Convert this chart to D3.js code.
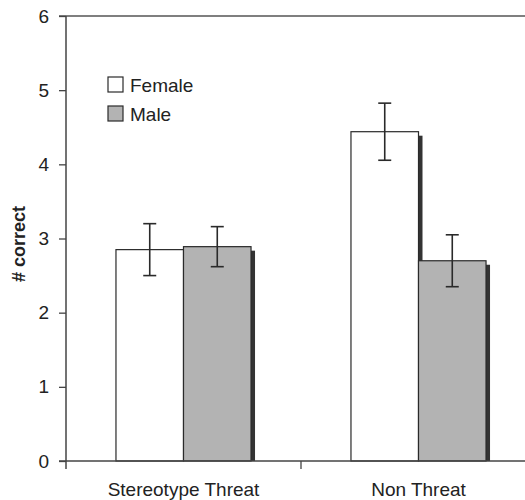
<!DOCTYPE html>
<html>
<head>
<meta charset="utf-8">
<script src="https://cdn.jsdelivr.net/npm/d3@7"></script>
<style>
  body { margin: 0; background: #fff; }
  svg { display: block; font-family: "Liberation Sans", Arial, sans-serif; }
</style>
</head>
<body>
<div id="chart"></div>
<script>
// Mean number correct by condition and sex, with error bars.
const conditions = ["Stereotype Threat", "Non Threat"];
const sexes = ["Female", "Male"];
const femaleMeans = [2.85, 4.44];
const maleMeans = [2.89, 2.70];
const femaleErr = [0.35, 0.385];
const maleErr = [0.27, 0.35];
const yTicks = [0, 1, 2, 3, 4, 5, 6];

const WIDTH = 525, HEIGHT = 500;
const MARGIN = { left: 66, top: 16 };
const INNER_W = 470, INNER_H = 445;

const rows = [];
conditions.forEach((c, i) => {
    rows.push({ cond: c, sex: "Female", mean: femaleMeans[i], err: femaleErr[i] });
    rows.push({ cond: c, sex: "Male", mean: maleMeans[i], err: maleErr[i] });
});

const svg = d3.select("#chart").append("svg")
    .attr("width", WIDTH)
    .attr("height", HEIGHT);

const chart = svg.append("g")
    .attr("transform", `translate(${MARGIN.left}, ${MARGIN.top})`);

const x0 = d3.scaleBand().domain(conditions).range([0, INNER_W]);
const x1 = d3.scaleBand().domain(sexes).range([0, x0.bandwidth()]).paddingOuter(0.74);
const y = d3.scaleLinear().domain([0, 6]).range([INNER_H, 0]);
const fill = d3.scaleOrdinal().domain(sexes).range(["#ffffff", "#b3b3b3"]);

const ink = "#2a2a2a";

// Top border line of the plot frame.
chart.append("line")
    .attr("x1", -7).attr("x2", INNER_W)
    .attr("y1", y(6)).attr("y2", y(6))
    .attr("stroke", "#555").attr("stroke-width", 1.5);

// Bars with a dark offset shadow on the right.
const bars = chart.selectAll("g.bar")
    .data(rows)
    .join("g")
    .attr("class", "bar")
    .attr("transform", d => `translate(${x0(d.cond) + x1(d.sex)}, 0)`);

bars.append("rect")
    .attr("x", 4)
    .attr("y", d => y(d.mean) + 4)
    .attr("width", x1.bandwidth())
    .attr("height", d => INNER_H - y(d.mean) - 4)
    .attr("fill", "#333");

bars.append("rect")
    .attr("x", 0)
    .attr("y", d => y(d.mean))
    .attr("width", x1.bandwidth())
    .attr("height", d => INNER_H - y(d.mean))
    .attr("fill", d => fill(d.sex))
    .attr("stroke", ink)
    .attr("stroke-width", 1.2);

// Error bars
const eb = bars.append("g").attr("stroke", ink).attr("stroke-width", 1.6);
const cx = x1.bandwidth() / 2;
eb.append("line")
    .attr("x1", cx).attr("x2", cx)
    .attr("y1", d => y(d.mean + d.err)).attr("y2", d => y(d.mean - d.err));
eb.append("line")
    .attr("x1", cx - 6.5).attr("x2", cx + 6.5)
    .attr("y1", d => y(d.mean + d.err)).attr("y2", d => y(d.mean + d.err));
eb.append("line")
    .attr("x1", cx - 6.5).attr("x2", cx + 6.5)
    .attr("y1", d => y(d.mean - d.err)).attr("y2", d => y(d.mean - d.err));

// Axes
const yAxis = chart.append("g")
    .call(d3.axisLeft(y).tickValues(yTicks).tickSize(7).tickPadding(10).tickFormat(d3.format("d")));
yAxis.select(".domain").remove();
yAxis.selectAll("line").attr("stroke", "#444").attr("stroke-width", 1.3);
yAxis.selectAll("text").style("font-size", "19px").attr("fill", "#222");

chart.append("line")
    .attr("x1", 0).attr("x2", 0)
    .attr("y1", y(6)).attr("y2", INNER_H + 8)
    .attr("stroke", "#444").attr("stroke-width", 1.5);

const xAxis = chart.append("g")
    .attr("transform", `translate(0, ${INNER_H})`)
    .call(d3.axisBottom(x0).tickSize(0).tickPadding(22));
xAxis.select(".domain").remove();
xAxis.selectAll("text").style("font-size", "19px").attr("fill", "#222");

chart.append("line")
    .attr("x1", -7).attr("x2", INNER_W)
    .attr("y1", INNER_H).attr("y2", INNER_H)
    .attr("stroke", "#444").attr("stroke-width", 1.5);

// Separator ticks between categories
chart.selectAll("line.sep")
    .data(conditions.slice(1))
    .join("line")
    .attr("class", "sep")
    .attr("x1", d => x0(d)).attr("x2", d => x0(d))
    .attr("y1", INNER_H).attr("y2", INNER_H + 8)
    .attr("stroke", "#444").attr("stroke-width", 1.3);

// Y label
svg.append("text")
    .attr("transform", `translate(25, 244) rotate(-90)`)
    .attr("text-anchor", "middle")
    .style("font-size", "18px")
    .style("font-weight", "bold")
    .attr("fill", "#222")
    .text("# correct");

// Legend
const legend = svg.append("g").attr("transform", "translate(108, 77)");
const li = legend.selectAll("g")
    .data(sexes)
    .join("g")
    .attr("transform", (d, i) => `translate(0, ${i * 29})`);
li.append("rect")
    .attr("width", 15).attr("height", 15)
    .attr("fill", d => fill(d))
    .attr("stroke", ink).attr("stroke-width", 1.2);
li.append("text")
    .attr("x", 22).attr("y", 15)
    .style("font-size", "19px")
    .attr("fill", "#222")
    .text(d => d);
</script>
</body>
</html>
